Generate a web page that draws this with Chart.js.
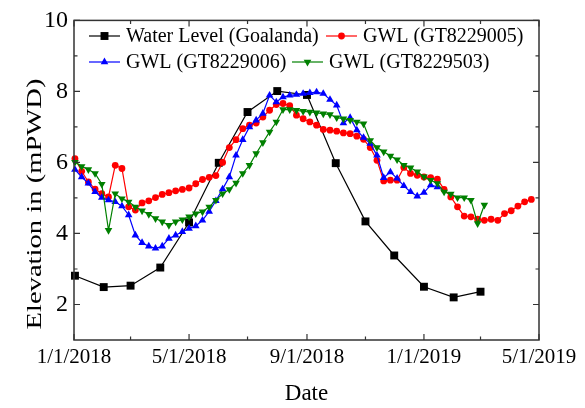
<!DOCTYPE html>
<html>
<head>
<meta charset="utf-8">
<script src="https://cdn.jsdelivr.net/npm/chart.js@4/dist/chart.umd.min.js"></script>
<style>
  html, body { margin: 0; padding: 0; background: #fff; }
  #c { display: block; }
</style>
</head>
<body>
<canvas id="c" width="585" height="408"></canvas>
<script>
// ---------------- DATA ----------------
const seriesNames = ["Water Level (Goalanda)", "GWL (GT8229005)", "GWL (GT8229006)", "GWL (GT8229503)"];

const wlDates = ["2018-01-02","2018-02-01","2018-03-01","2018-04-01","2018-05-01","2018-06-01","2018-07-01",
                 "2018-08-01","2018-09-01","2018-10-01","2018-11-01","2018-12-01","2019-01-01","2019-02-01","2019-03-01"];
const wlValues = [2.81, 2.49, 2.53, 3.04, 4.31, 5.99, 7.42, 8.01, 7.90, 5.98, 4.34, 3.38, 2.50, 2.20, 2.36];

const gwlDates = [
  "2018-01-02","2018-01-09","2018-01-16","2018-01-23","2018-01-30",
  "2018-02-06","2018-02-13","2018-02-20","2018-02-27",
  "2018-03-06","2018-03-13","2018-03-20","2018-03-27",
  "2018-04-03","2018-04-10","2018-04-17","2018-04-24",
  "2018-05-01","2018-05-08","2018-05-15","2018-05-22","2018-05-29",
  "2018-06-05","2018-06-12","2018-06-19","2018-06-26",
  "2018-07-03","2018-07-10","2018-07-17","2018-07-24","2018-07-31",
  "2018-08-07","2018-08-14","2018-08-21","2018-08-28",
  "2018-09-04","2018-09-11","2018-09-18","2018-09-25",
  "2018-10-02","2018-10-09","2018-10-16","2018-10-23","2018-10-30",
  "2018-11-06","2018-11-13","2018-11-20","2018-11-27",
  "2018-12-04","2018-12-11","2018-12-18","2018-12-25",
  "2019-01-01","2019-01-08","2019-01-15","2019-01-22","2019-01-29",
  "2019-02-05","2019-02-12","2019-02-19","2019-02-26",
  "2019-03-05","2019-03-12","2019-03-19","2019-03-26",
  "2019-04-02","2019-04-09","2019-04-16","2019-04-23"
];

const gwl005 = [6.11, 5.75, 5.45, 5.25, 5.12, 5.03, 5.92, 5.83, 4.75, 4.66,
                4.86, 4.92, 5.01, 5.10, 5.15, 5.20, 5.24, 5.28, 5.40, 5.52,
                5.58, 5.63, 6.00, 6.42, 6.64, 6.95, 7.05, 7.11, 7.28, 7.47,
                7.63, 7.66, 7.60, 7.33, 7.23, 7.14, 7.05, 6.93, 6.91, 6.88,
                6.83, 6.81, 6.74, 6.65, 6.42, 6.06, 5.48, 5.50, 5.50, 5.86,
                5.69, 5.64, 5.59, 5.57, 5.53, 5.24, 5.03, 4.75, 4.49, 4.47,
                4.40, 4.37, 4.40, 4.37, 4.56, 4.64, 4.77, 4.89, 4.96];

const gwl006 = [5.80, 5.59, 5.41, 5.17, 5.01, 4.94, 4.89, 4.77, 4.52, 3.95,
                3.74, 3.64, 3.58, 3.64, 3.86, 3.95, 4.05, 4.14, 4.21, 4.37,
                4.62, 4.92, 5.25, 5.59, 6.20, 6.64, 7.00, 7.19, 7.38, 7.89,
                7.70, 7.84, 7.89, 7.91, 7.94, 7.96, 7.98, 7.94, 7.77, 7.61,
                7.11, 7.26, 6.91, 6.70, 6.53, 6.20, 5.57, 5.73, 5.55, 5.34,
                5.17, 5.05, 5.15, 5.36, 5.31];

const gwl503 = [6.01, 5.89, 5.80, 5.69, 5.39, 4.09, 5.12, 4.98, 4.89, 4.75,
                4.64, 4.54, 4.42, 4.33, 4.23, 4.33, 4.39, 4.47, 4.56, 4.61,
                4.75, 4.94, 5.12, 5.24, 5.42, 5.69, 5.92, 6.25, 6.56, 6.86,
                7.14, 7.49, 7.49, 7.47, 7.44, 7.42, 7.40, 7.37, 7.35, 7.26,
                7.23, 7.19, 7.14, 7.09, 6.62, 6.42, 6.30, 6.18, 6.08, 5.92,
                5.85, 5.74, 5.60, 5.50, 5.41, 5.17, 5.11, 5.01, 5.01, 4.94,
                4.28, 4.80];

const xTickDates  = ["2018-01-01","2018-05-01","2018-09-01","2019-01-01","2019-05-01"];
const xTickLabels = ["1/1/2018","5/1/2018","9/1/2018","1/1/2019","5/1/2019"];
const xMinorDates = ["2018-03-01","2018-07-01","2018-11-01","2019-03-01"];
const yTicks = [2, 4, 6, 8, 10];
const yMinorTicks = [3, 5, 7, 9];
const yMin = 1, yMax = 10;
const xTitle = "Date";
const yTitle = "Elevation in (mPWD)";

// ---------------- HELPERS ----------------
const START = Date.UTC(2018, 0, 1);
function dayOf(s) {
  const p = s.split('-').map(Number);
  return (Date.UTC(p[0], p[1] - 1, p[2]) - START) / 86400000;
}
function pts(dates, vals) { return vals.map((v, i) => ({ x: dayOf(dates[i]), y: v })); }

const FONT = '"Liberation Serif", "Times New Roman", serif';
const colors = ['#000000', '#ff0000', '#0000ff', '#008000'];
const styles = [
  { pointStyle: 'rect', radius: 5.6, rotation: 0 },
  { pointStyle: 'circle', radius: 3.4, rotation: 0 },
  { pointStyle: 'triangle', radius: 4.4, rotation: 0 },
  { pointStyle: 'triangle', radius: 4.4, rotation: 180 }
];
const seriesData = [pts(wlDates, wlValues), pts(gwlDates, gwl005), pts(gwlDates, gwl006), pts(gwlDates, gwl503)];

const datasets = seriesData.map((d, i) => ({
  label: seriesNames[i],
  data: d,
  borderColor: colors[i],
  backgroundColor: colors[i],
  borderWidth: 1.2,
  pointStyle: styles[i].pointStyle,
  pointRadius: styles[i].radius,
  pointRotation: styles[i].rotation,
  pointBackgroundColor: colors[i],
  pointBorderColor: colors[i],
  pointBorderWidth: 0,
  tension: 0,
  clip: false,
  order: 4 - i
}));

function drawMarker(ctx, st, x, y, color) {
  const r = st.radius;
  ctx.fillStyle = color;
  ctx.beginPath();
  if (st.pointStyle === 'rect') {
    const s = Math.SQRT1_2 * r;
    ctx.rect(x - s, y - s, 2 * s, 2 * s);
  } else if (st.pointStyle === 'circle') {
    ctx.arc(x, y, r, 0, Math.PI * 2);
  } else {
    let rad = st.rotation * Math.PI / 180;
    ctx.moveTo(x + Math.sin(rad) * r, y - Math.cos(rad) * r);
    rad += 2 * Math.PI / 3;
    ctx.lineTo(x + Math.sin(rad) * r, y - Math.cos(rad) * r);
    rad += 2 * Math.PI / 3;
    ctx.lineTo(x + Math.sin(rad) * r, y - Math.cos(rad) * r);
    ctx.closePath();
  }
  ctx.fill();
}

const framePlugin = {
  id: 'frame',
  afterDraw(chart) {
    const ctx = chart.ctx;
    const { left, right, top, bottom } = chart.chartArea;
    const xs = chart.scales.x, ys = chart.scales.y;
    ctx.save();
    ctx.strokeStyle = '#333';
    ctx.lineWidth = 1.5;
    ctx.strokeRect(left, top, right - left, bottom - top);
    ctx.lineWidth = 1.2;
    ctx.beginPath();
    const major = 6, minor = 3.5;
    xTickDates.forEach(d => { const p = xs.getPixelForValue(dayOf(d));
      ctx.moveTo(p, bottom); ctx.lineTo(p, bottom - major); ctx.moveTo(p, top); ctx.lineTo(p, top + major); });
    xMinorDates.forEach(d => { const p = xs.getPixelForValue(dayOf(d));
      ctx.moveTo(p, bottom); ctx.lineTo(p, bottom - minor); ctx.moveTo(p, top); ctx.lineTo(p, top + minor); });
    yTicks.forEach(v => { const p = ys.getPixelForValue(v);
      ctx.moveTo(left, p); ctx.lineTo(left + major, p); ctx.moveTo(right, p); ctx.lineTo(right - major, p); });
    yMinorTicks.forEach(v => { const p = ys.getPixelForValue(v);
      ctx.moveTo(left, p); ctx.lineTo(left + minor, p); ctx.moveTo(right, p); ctx.lineTo(right - minor, p); });
    ctx.stroke();

    // y axis title
    ctx.fillStyle = '#000';
    ctx.translate(35, 204);
    ctx.rotate(-Math.PI / 2);
    ctx.scale(1.3, 1);
    ctx.font = '22px ' + FONT;
    ctx.textAlign = 'center';
    ctx.textBaseline = 'middle';
    ctx.fillText(yTitle, 0, 0);
    ctx.restore();

    // legend
    const items = [
      { i: 0, x: 89, y: 36 }, { i: 1, x: 326, y: 36 },
      { i: 2, x: 89, y: 62 }, { i: 3, x: 292, y: 62 }
    ];
    ctx.save();
    ctx.font = '20px ' + FONT;
    ctx.textBaseline = 'middle';
    ctx.textAlign = 'left';
    items.forEach(it => {
      const L = 31;
      ctx.strokeStyle = colors[it.i];
      ctx.lineWidth = 1.2;
      ctx.beginPath(); ctx.moveTo(it.x, it.y); ctx.lineTo(it.x + L, it.y); ctx.stroke();
      drawMarker(ctx, styles[it.i], it.x + L / 2, it.y, colors[it.i]);
      ctx.fillStyle = '#000';
      ctx.fillText(seriesNames[it.i], it.x + L + 6, it.y + 1);
    });
    ctx.restore();
  }
};

new Chart(document.getElementById('c'), {
  type: 'line',
  data: { datasets },
  options: {
    responsive: false,
    animation: false,
    devicePixelRatio: 1,
    layout: { padding: { top: 20, right: 46, left: 0, bottom: 0 } },
    plugins: { legend: { display: false }, tooltip: { enabled: false } },
    scales: {
      x: {
        type: 'linear',
        min: dayOf(xTickDates[0]),
        max: dayOf(xTickDates[xTickDates.length - 1]),
        afterBuildTicks: s => { s.ticks = xTickDates.map(d => ({ value: dayOf(d) })); },
        afterFit: s => { s.height = 68; },
        ticks: {
          callback: (v, i) => xTickLabels[i],
          font: { family: FONT, size: 21 },
          color: '#000',
          padding: 5,
          maxRotation: 0,
          autoSkip: false
        },
        grid: { display: false, drawTicks: false },
        border: { display: false },
        title: { display: true, text: xTitle, font: { family: FONT, size: 23 }, color: '#000', padding: { top: 8, bottom: 0 } }
      },
      y: {
        type: 'linear',
        min: yMin,
        max: yMax,
        afterBuildTicks: s => { s.ticks = yTicks.map(v => ({ value: v })); },
        afterFit: s => { s.width = 74; },
        ticks: {
          font: { family: FONT, size: 24 },
          color: '#000',
          padding: 6
        },
        grid: { display: false, drawTicks: false },
        border: { display: false }
      }
    }
  },
  plugins: [framePlugin]
});
</script>
</body>
</html>
